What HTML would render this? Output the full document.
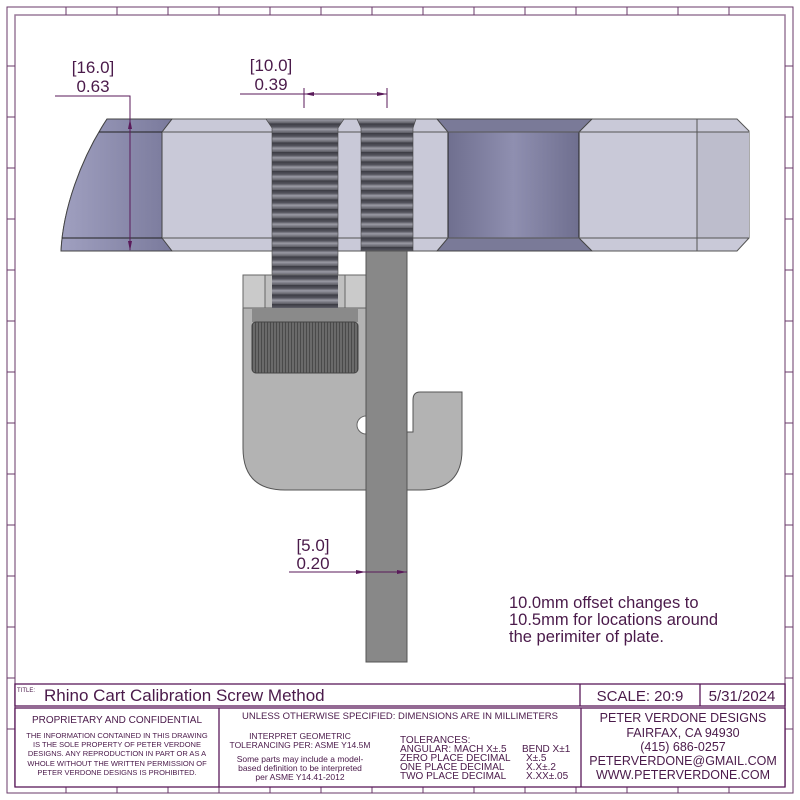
<!DOCTYPE html>
<html><head><meta charset="utf-8"><style>
html,body{margin:0;padding:0;background:#fff}
svg{display:block}
text{font-family:"Liberation Sans",sans-serif;fill:#4a1a4a}
</style></head><body>
<svg width="800" height="800" viewBox="0 0 800 800" xmlns="http://www.w3.org/2000/svg">
<defs>
<linearGradient id="dk" x1="0" x2="1"><stop offset="0" stop-color="#6f6f8f"/><stop offset="0.5" stop-color="#8f8fb0"/><stop offset="1" stop-color="#6f6f8f"/></linearGradient>
<linearGradient id="lf" x1="0" x2="1"><stop offset="0" stop-color="#a0a0c0"/><stop offset="1" stop-color="#7a7a9c"/></linearGradient>
<linearGradient id="tg" x1="0" y1="0" x2="0" y2="1"><stop offset="0" stop-color="#3a3a42"/><stop offset="0.35" stop-color="#55555e"/><stop offset="0.6" stop-color="#9a9aa4"/><stop offset="1" stop-color="#5a5a62"/></linearGradient>
<pattern id="thr" width="10" height="9.5" patternUnits="userSpaceOnUse">
<rect width="10" height="9.5" fill="url(#tg)"/></pattern>
<pattern id="knurl" width="3" height="10" patternUnits="userSpaceOnUse">
<rect width="3" height="10" fill="#6a6a6a"/><rect width="1" height="10" fill="#4a4a4a"/></pattern>
</defs>
<!-- frame -->
<rect x="7" y="7" width="786" height="786" fill="none" stroke="#6a3a6a" stroke-width="1"/>
<rect x="15" y="15" width="770" height="771" fill="none" stroke="#9a7a9a" stroke-width="1.5"/>
<g stroke="#6a3a6a" stroke-width="1">
<path d="M66 7V15M117 7V15M168 7V15M219 7V15M270 7V15M321 7V15M372 7V15M423 7V15M474 7V15M525 7V15M576 7V15M627 7V15M678 7V15M729 7V15"/>
<path d="M7 66H15M7 117H15M7 168H15M7 219H15M7 270H15M7 321H15M7 372H15M7 423H15M7 474H15M7 525H15M7 576H15M7 627H15M7 678H15M7 729H15"/>
<path d="M785 66H793M785 117H793M785 168H793M785 219H793M785 270H793M785 321H793M785 372H793M785 423H793M785 474H793M785 525H793M785 576H793M785 627H793M785 678H793M785 729H793"/>
<path d="M66 786V793M117 786V793M168 786V793M219 786V793M270 786V793M321 786V793M372 786V793M423 786V793M474 786V793M525 786V793M576 786V793M627 786V793M678 786V793M729 786V793"/>
</g>
<!-- plate -->
<path d="M107 119 H737 L749 131 V238 L737 251 H61 C63 210 80 160 107 119Z" fill="#c9c9d8" stroke="#555" stroke-width="1"/>
<path d="M107 119 H172 L162 132 V238 L172 251 H61 C63 210 80 160 107 119Z" fill="url(#lf)" stroke="#444" stroke-width="1"/>
<path d="M437 119 H592 L579 132 V238 L592 251 H437 L448 238 V132Z" fill="#7a7a98" stroke="#444"/>
<rect x="448" y="132" width="131" height="106" fill="url(#dk)" stroke="#222"/>
<rect x="697" y="132" width="52" height="106" fill="#bdbdcc"/>
<path d="M162 132H749M162 238H749M697 119V251" stroke="#555" fill="none"/>
<path d="M99 132H162M62 238H162" stroke="#222"/>
<!-- screw 1 threads -->
<path d="M266 119 H344 L338 128 V308 H272 V128Z" fill="url(#thr)" stroke="#444" stroke-width="0.6"/>
<!-- screw 2 threads -->
<path d="M357 119 H416 L413 128 V251 H361 V128Z" fill="url(#thr)" stroke="#444" stroke-width="0.6"/>
<!-- bracket -->
<path d="M243 275 H366 V490 H285 Q243 490 243 448Z" fill="#b3b3b3" stroke="#555"/>
<rect x="243" y="275" width="123" height="33" fill="#cacaca" stroke="#666"/>
<rect x="265" y="275" width="80" height="33" fill="#c0c0c0" stroke="#666"/>
<path d="M272 275 H338 V308 H272Z" fill="url(#thr)"/>
<rect x="252" y="308" width="106" height="14" fill="#8a8a8a"/>
<rect x="252" y="322" width="106" height="51" rx="4" fill="url(#knurl)" stroke="#444"/>
<path d="M407 490 H420 Q462 490 462 450 V392 H420 Q413 392 413 400 V432 H407Z" fill="#b3b3b3" stroke="#555"/>
<circle cx="366" cy="425" r="9" fill="#fff" stroke="#666"/>
<!-- bar -->
<rect x="366" y="251" width="41" height="411" fill="#888" stroke="#555"/>
<!-- dims -->
<g stroke="#5a1a5a" stroke-width="1" fill="none">
<path d="M55 96H130V250"/>
<path d="M240 94H387M304 88V108M387 88V108"/>
<path d="M289 572H407"/>
</g>
<g fill="#5a1a5a">
<path d="M130 251 l-2 -10 h4Z M130 119 l-2 10 h4Z"/>
<path d="M304 94 l10 -2 v4Z M387 94 l-10 -2 v4Z"/>
<path d="M366 572 l-10 -2 v4Z M407 572 l-10 -2 v4Z"/>
</g>
<g font-size="17" text-anchor="middle">
<text x="93" y="73">[16.0]</text><text x="93" y="92">0.63</text>
<text x="271" y="71">[10.0]</text><text x="271" y="90">0.39</text>
<text x="313" y="551">[5.0]</text><text x="313" y="569">0.20</text>
</g>
<g font-size="16.5">
<text x="509" y="608">10.0mm offset changes to</text>
<text x="509" y="625">10.5mm for locations around</text>
<text x="509" y="642">the perimiter of plate.</text>
</g>
<!-- title block -->
<g stroke="#5a1a5a" stroke-width="1.3" fill="#fff">
<rect x="15" y="684" width="770" height="22"/>
<rect x="15" y="708" width="770" height="79"/>
<path d="M580 684V706M700 684V706M219 708V787M581 708V787" fill="none"/>
</g>
<text x="17" y="692" font-size="6">TITLE:</text>
<text x="44" y="701" font-size="17">Rhino Cart Calibration Screw Method</text>
<text x="640" y="701" font-size="15" text-anchor="middle">SCALE: 20:9</text>
<text x="742" y="701" font-size="15" text-anchor="middle">5/31/2024</text>
<g text-anchor="middle">
<text x="117" y="723" font-size="10">PROPRIETARY AND CONFIDENTIAL</text>
<text x="117" y="738" font-size="7.5">THE INFORMATION CONTAINED IN THIS DRAWING</text>
<text x="117" y="747" font-size="7.5">IS THE SOLE PROPERTY OF PETER VERDONE</text>
<text x="117" y="756" font-size="7.5">DESIGNS.  ANY  REPRODUCTION IN PART OR AS A</text>
<text x="117" y="766" font-size="7.5">WHOLE WITHOUT THE WRITTEN PERMISSION OF</text>
<text x="117" y="775" font-size="7.5">PETER VERDONE DESIGNS IS PROHIBITED.</text>
<text x="400" y="719" font-size="9.5">UNLESS OTHERWISE SPECIFIED: DIMENSIONS ARE IN MILLIMETERS</text>
<text x="300" y="739" font-size="8.5">INTERPRET GEOMETRIC</text>
<text x="300" y="748" font-size="8.5">TOLERANCING PER: ASME Y14.5M</text>
<text x="300" y="762" font-size="8.5">Some parts may include a model-</text>
<text x="300" y="771" font-size="8.5">based definition to be interpreted</text>
<text x="300" y="780" font-size="8.5">per ASME Y14.41-2012</text>
<text x="683" y="722" font-size="12.5">PETER VERDONE DESIGNS</text>
<text x="683" y="737" font-size="12.5">FAIRFAX, CA 94930</text>
<text x="683" y="751" font-size="12.5">(415) 686-0257</text>
<text x="683" y="765" font-size="12.5">PETERVERDONE@GMAIL.COM</text>
<text x="683" y="779" font-size="12.5">WWW.PETERVERDONE.COM</text>
</g>
<g font-size="10">
<text x="400" y="743">TOLERANCES:</text>
<text x="400" y="752">ANGULAR: MACH X±.5</text><text x="522" y="752">BEND X±1</text>
<text x="400" y="761">ZERO PLACE DECIMAL</text><text x="526" y="761">X±.5</text>
<text x="400" y="770">ONE PLACE DECIMAL</text><text x="526" y="770">X.X±.2</text>
<text x="400" y="779">TWO PLACE DECIMAL</text><text x="526" y="779">X.XX±.05</text>
</g>
</svg>
</body></html>
